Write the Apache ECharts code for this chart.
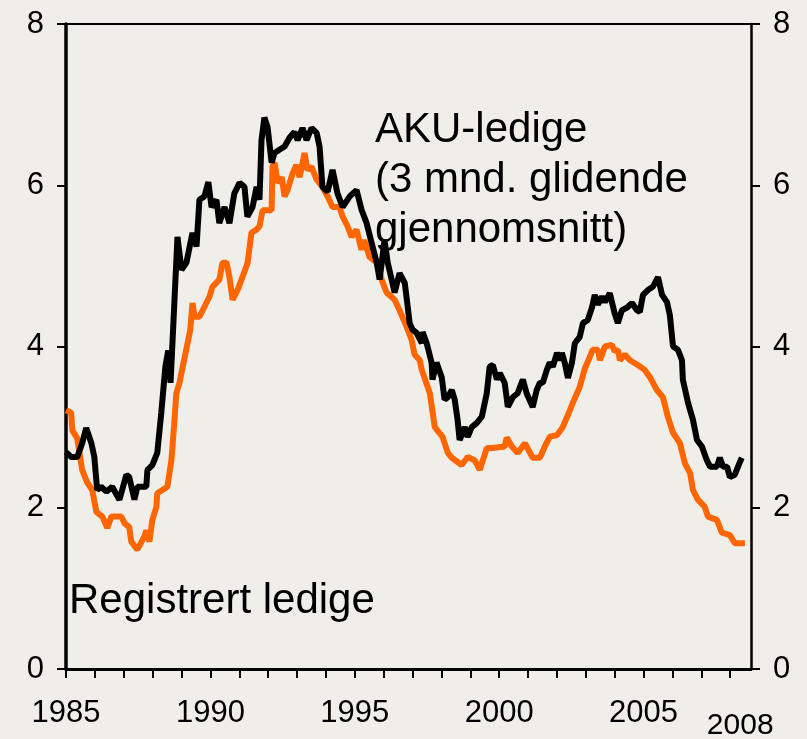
<!DOCTYPE html>
<html>
<head>
<meta charset="utf-8">
<script src="https://cdn.jsdelivr.net/npm/echarts@6/dist/echarts.min.js"></script>
<style>
  html, body { margin: 0; padding: 0; background: #efeee8; }
  #chart { width: 807px; height: 739px; }
</style>
</head>
<body>
<div id="chart"></div>
<script>
// år, prosent av arbeidsstyrken
var registrert = [
  [1985.0, 3.21], [1985.18, 3.18], [1985.22, 2.96], [1985.39, 2.86], [1985.56, 2.47], [1985.74, 2.31],
  [1985.91, 2.22], [1986.05, 1.95], [1986.26, 1.89], [1986.43, 1.75], [1986.57, 1.89], [1986.92, 1.89],
  [1987.02, 1.81], [1987.19, 1.76], [1987.26, 1.58], [1987.47, 1.48], [1987.71, 1.64], [1987.78, 1.72],
  [1987.89, 1.58], [1987.99, 1.85], [1988.13, 2.01], [1988.16, 2.18], [1988.34, 2.22], [1988.51, 2.26],
  [1988.65, 2.59], [1988.75, 3.05], [1988.82, 3.42], [1988.93, 3.55], [1989.1, 3.85], [1989.3, 4.2],
  [1989.38, 4.54], [1989.45, 4.37], [1989.62, 4.37], [1989.79, 4.49], [1989.97, 4.62], [1990.07, 4.74],
  [1990.31, 4.83], [1990.42, 5.04], [1990.56, 5.04], [1990.66, 4.86], [1990.77, 4.58], [1990.94, 4.70],
  [1991.11, 4.86], [1991.29, 5.04], [1991.42, 5.41], [1991.60, 5.45], [1991.70, 5.49], [1991.81, 5.69],
  [1991.98, 5.69], [1992.12, 5.69], [1992.15, 6.23], [1992.22, 6.28], [1992.33, 6.03], [1992.47, 6.10],
  [1992.57, 5.86], [1992.67, 5.94], [1992.85, 6.15], [1992.98, 6.25], [1993.09, 6.10], [1993.26, 6.40],
  [1993.36, 6.19], [1993.50, 6.23], [1993.68, 6.07], [1993.88, 5.98], [1994.06, 5.86], [1994.23, 5.73],
  [1994.47, 5.73], [1994.58, 5.61], [1994.75, 5.49], [1994.89, 5.36], [1995.06, 5.45], [1995.23, 5.20],
  [1995.33, 5.32], [1995.51, 5.11], [1995.76, 5.04], [1995.93, 4.83], [1996.10, 4.67], [1996.38, 4.58],
  [1996.55, 4.45], [1996.80, 4.24], [1996.97, 4.08], [1997.07, 3.90], [1997.25, 3.83], [1997.32, 3.71],
  [1997.60, 3.42], [1997.77, 3.00], [1998.04, 2.88], [1998.22, 2.68], [1998.36, 2.62], [1998.70, 2.53],
  [1998.91, 2.63], [1999.15, 2.59], [1999.33, 2.47], [1999.57, 2.74], [1999.78, 2.74], [2000.19, 2.76],
  [2000.26, 2.87], [2000.44, 2.76], [2000.64, 2.68], [2000.89, 2.80], [2001.16, 2.62], [2001.41, 2.62],
  [2001.58, 2.76], [2001.75, 2.88], [2002.0, 2.90], [2002.20, 3.00], [2002.38, 3.15], [2002.55, 3.30],
  [2002.79, 3.50], [2002.97, 3.73], [2003.14, 3.87], [2003.24, 3.96], [2003.42, 3.96], [2003.49, 3.83],
  [2003.66, 4.00], [2003.90, 4.02], [2004.0, 3.94], [2004.11, 3.96], [2004.18, 3.83], [2004.35, 3.90],
  [2004.53, 3.83], [2004.80, 3.77], [2005.04, 3.71], [2005.22, 3.62], [2005.46, 3.46], [2005.67, 3.37],
  [2005.84, 3.13], [2006.02, 2.93], [2006.26, 2.80], [2006.43, 2.55], [2006.61, 2.43], [2006.71, 2.22],
  [2006.88, 2.10], [2007.12, 2.01], [2007.23, 1.89], [2007.54, 1.85], [2007.71, 1.69], [2007.99, 1.66],
  [2008.16, 1.56], [2008.51, 1.56]
];

var aku = [
  [1985.0, 2.69], [1985.18, 2.63], [1985.39, 2.63], [1985.56, 2.80], [1985.70, 2.99], [1985.88, 2.80],
  [1985.98, 2.63], [1986.08, 2.22], [1986.22, 2.26], [1986.40, 2.20], [1986.60, 2.26], [1986.85, 2.10],
  [1987.09, 2.41], [1987.19, 2.38], [1987.37, 2.10], [1987.47, 2.26], [1987.78, 2.26], [1987.82, 2.47],
  [1987.99, 2.53], [1988.16, 2.68], [1988.30, 3.18], [1988.44, 3.75], [1988.54, 3.95], [1988.62, 3.55],
  [1988.72, 4.30], [1988.86, 5.36], [1989.0, 4.95], [1989.17, 5.04], [1989.38, 5.41], [1989.52, 5.24],
  [1989.62, 5.82], [1989.79, 5.86], [1989.93, 6.04], [1990.04, 5.73], [1990.21, 5.82], [1990.31, 5.53],
  [1990.49, 5.73], [1990.66, 5.53], [1990.83, 5.90], [1991.01, 6.03], [1991.18, 5.98], [1991.28, 5.61],
  [1991.46, 5.73], [1991.60, 5.98], [1991.70, 5.82], [1991.77, 6.56], [1991.87, 6.84], [1991.98, 6.72],
  [1992.12, 6.28], [1992.22, 6.40], [1992.39, 6.44], [1992.57, 6.48], [1992.74, 6.59], [1992.91, 6.66],
  [1993.02, 6.56], [1993.19, 6.71], [1993.33, 6.56], [1993.50, 6.71], [1993.68, 6.65], [1993.78, 6.48],
  [1993.88, 5.98], [1994.06, 5.92], [1994.23, 6.19], [1994.40, 5.90], [1994.58, 5.73], [1994.82, 5.86],
  [1995.06, 5.94], [1995.24, 5.69], [1995.41, 5.53], [1995.58, 5.29], [1995.76, 5.04], [1995.86, 4.83],
  [1996.03, 5.32], [1996.14, 5.04], [1996.38, 4.67], [1996.55, 4.91], [1996.73, 4.79], [1996.83, 4.50],
  [1996.90, 4.29], [1997.0, 4.21], [1997.14, 4.17], [1997.32, 4.04], [1997.35, 4.18], [1997.49, 4.04],
  [1997.66, 3.80], [1997.69, 3.59], [1997.83, 3.80], [1998.01, 3.62], [1998.11, 3.34], [1998.22, 3.37],
  [1998.36, 3.46], [1998.46, 3.34], [1998.56, 3.09], [1998.63, 2.84], [1998.81, 3.00], [1998.91, 2.88],
  [1999.05, 3.00], [1999.22, 3.05], [1999.40, 3.13], [1999.57, 3.42], [1999.67, 3.75], [1999.78, 3.77],
  [1999.92, 3.59], [2000.02, 3.67], [2000.19, 3.55], [2000.30, 3.25], [2000.47, 3.37], [2000.64, 3.42],
  [2000.82, 3.59], [2000.95, 3.42], [2001.16, 3.25], [2001.30, 3.46], [2001.41, 3.55], [2001.51, 3.55],
  [2001.65, 3.71], [2001.75, 3.80], [2001.86, 3.75], [2002.0, 3.92], [2002.10, 3.83], [2002.17, 3.92],
  [2002.27, 3.80], [2002.38, 3.61], [2002.52, 3.80], [2002.62, 4.04], [2002.79, 4.12], [2002.90, 4.29],
  [2003.07, 4.33], [2003.21, 4.48], [2003.31, 4.64], [2003.42, 4.52], [2003.56, 4.62], [2003.66, 4.55],
  [2003.83, 4.66], [2004.0, 4.41], [2004.11, 4.29], [2004.25, 4.45], [2004.42, 4.48], [2004.60, 4.54],
  [2004.77, 4.45], [2004.87, 4.43], [2004.98, 4.64], [2005.15, 4.70], [2005.32, 4.74], [2005.50, 4.86],
  [2005.64, 4.64], [2005.81, 4.55], [2005.91, 4.39], [2006.02, 4.00], [2006.19, 3.96], [2006.33, 3.83],
  [2006.36, 3.59], [2006.54, 3.30], [2006.71, 3.09], [2006.85, 2.84], [2007.02, 2.76], [2007.19, 2.59],
  [2007.30, 2.51], [2007.54, 2.51], [2007.64, 2.62], [2007.75, 2.51], [2007.89, 2.51], [2007.99, 2.38],
  [2008.16, 2.41], [2008.27, 2.51], [2008.40, 2.62]
];

var aarLabels = [1985, 1990, 1995, 2000, 2005];
var sisteAar = 2008;
var yTicks = [0, 2, 4, 6, 8];

var font = "'Liberation Sans', Arial, sans-serif";

var chart = echarts.init(document.getElementById('chart'));

var yAxisBase = function (pos, lw) {
  return {
    type: 'value',
    position: pos,
    min: yTicks[0],
    max: yTicks[yTicks.length - 1],
    interval: 2,
    splitLine: { show: false },
    axisLine: { show: true, lineStyle: { color: '#000', width: lw } },
    axisTick: { show: true, inside: false, length: 9, lineStyle: { color: '#000', width: 2 } },
    axisLabel: { color: '#000', fontSize: 31, fontFamily: font, margin: 22 }
  };
};

var option = {
  backgroundColor: '#efeee8',
  animation: false,
  grid: { left: 66, right: 56, top: 24, bottom: 70, containLabel: false, outerBoundsMode: 'none' },
  xAxis: [{
    type: 'value',
    min: 1985,
    max: 2008.72,
    interval: 1,
    splitLine: { show: false },
    axisLine: { show: true, onZero: false, lineStyle: { color: '#000', width: 3 } },
    axisTick: { show: true, length: 9, lineStyle: { color: '#000', width: 2 } },
    axisLabel: {
      color: '#000', fontSize: 31, fontFamily: font, margin: 29,
      showMaxLabel: false,
      formatter: function (v) {
        var y = Math.round(v);
        if (Math.abs(v - y) > 0.01) return '';
        if (y === sisteAar) return '{late|' + y + '}';
        return aarLabels.indexOf(y) >= 0 ? String(y) : '';
      },
      rich: {
        late: { fontSize: 30, fontFamily: font, color: '#000', padding: [13, 0, 0, 20] }
      }
    }
  }, {
    type: 'value',
    position: 'top',
    min: 1985,
    max: 2008.72,
    axisLine: { show: true, onZero: false, lineStyle: { color: '#000', width: 2 } },
    axisTick: { show: false },
    axisLabel: { show: false },
    splitLine: { show: false }
  }],
  yAxis: [yAxisBase('left', 3.5), yAxisBase('right', 2.5)],
  graphic: [{
    type: 'text',
    left: 375,
    top: 105,
    style: {
      text: 'AKU-ledige\n(3 mnd. glidende\ngjennomsnitt)',
      font: '42px ' + font,
      lineHeight: 50,
      fill: '#000'
    }
  }, {
    type: 'text',
    left: 69,
    top: 576,
    style: {
      text: 'Registrert ledige',
      font: '42px ' + font,
      lineHeight: 50,
      fill: '#000'
    }
  }],
  series: [{
    name: 'Registrert ledige',
    type: 'line',
    data: registrert,
    showSymbol: false,
    lineStyle: { color: '#ff6600', width: 6 },
    z: 2
  }, {
    name: 'AKU-ledige',
    type: 'line',
    data: aku,
    showSymbol: false,
    lineStyle: { color: '#000', width: 6 },
    z: 3
  }]
};

chart.setOption(option);
</script>
</body>
</html>
